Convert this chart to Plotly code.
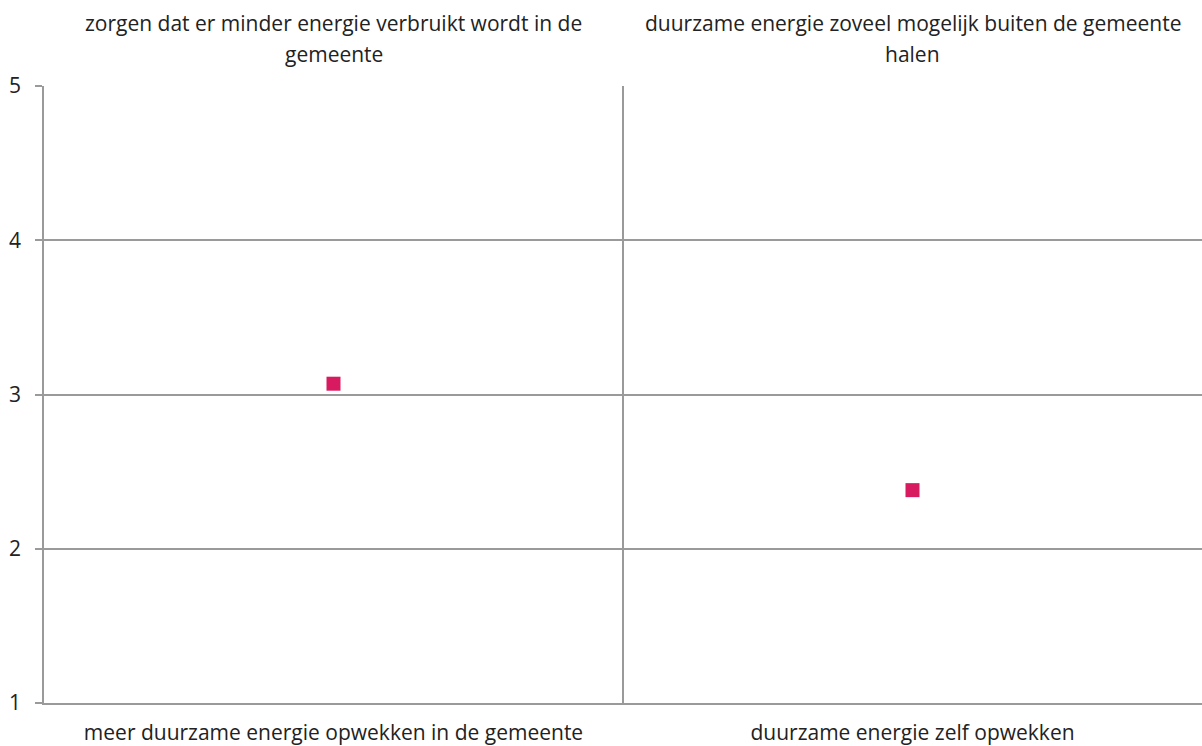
import plotly.graph_objects as go

categories = ["meer duurzame energie opwekken in de gemeente", "duurzame energie zelf opwekken"]
top_line1 = [
    "zorgen dat er minder energie verbruikt wordt in de",
    "duurzame energie zoveel mogelijk buiten de gemeente",
]
top_line2 = ["gemeente", "halen"]
values = [3.07, 2.38]
y_ticks = [1, 2, 3, 4, 5]

FONT = "Open Sans"
FS = 21
GRID = "#9a9a9a"
MARK = "#D81B60"
TXT = "#222222"

fig = go.Figure()
fig.add_trace(go.Scatter(
    x=categories, y=values, mode="markers",
    marker=dict(symbol="square", size=14, color=MARK, line=dict(width=0)),
    showlegend=False, cliponaxis=False,
))

annotations = []
for cat, l1, l2 in zip(categories, top_line1, top_line2):
    for text, shift in ((l1, 63), (l2, 32)):
        annotations.append(dict(
            x=cat, xref="x", y=1, yref="paper", yshift=shift,
            text=text, showarrow=False, yanchor="middle", xanchor="center",
            font=dict(family=FONT, size=FS, color=TXT),
        ))

fig.update_layout(
    width=1202, height=746,
    margin=dict(l=44, r=0, t=86, b=43),
    paper_bgcolor="white", plot_bgcolor="white",
    font=dict(family=FONT, size=FS, color=TXT),
    annotations=annotations,
    xaxis=dict(
        type="category", range=[-0.5, 1.5], tickson="boundaries",
        showgrid=True, gridcolor=GRID, gridwidth=1.5,
        showline=True, linecolor=GRID, linewidth=1.5,
        ticks="", ticklabelstandoff=10, zeroline=False, automargin=False,
        tickfont=dict(family=FONT, size=FS, color=TXT),
    ),
    yaxis=dict(
        range=[1, 5], tickvals=y_ticks, ticktext=[str(v) for v in y_ticks],
        showgrid=True, gridcolor=GRID, gridwidth=1.5,
        showline=True, linecolor=GRID, linewidth=1.5,
        ticks="outside", ticklen=7, tickcolor=GRID, tickwidth=1.5,
        ticklabelstandoff=10, zeroline=False, automargin=False,
        tickfont=dict(family=FONT, size=FS, color=TXT),
    ),
)

fig.write_html(
    "out.html",
    config={"displayModeBar": False},
    post_script="document.body.style.margin='0';document.body.style.overflow='hidden';",
)
